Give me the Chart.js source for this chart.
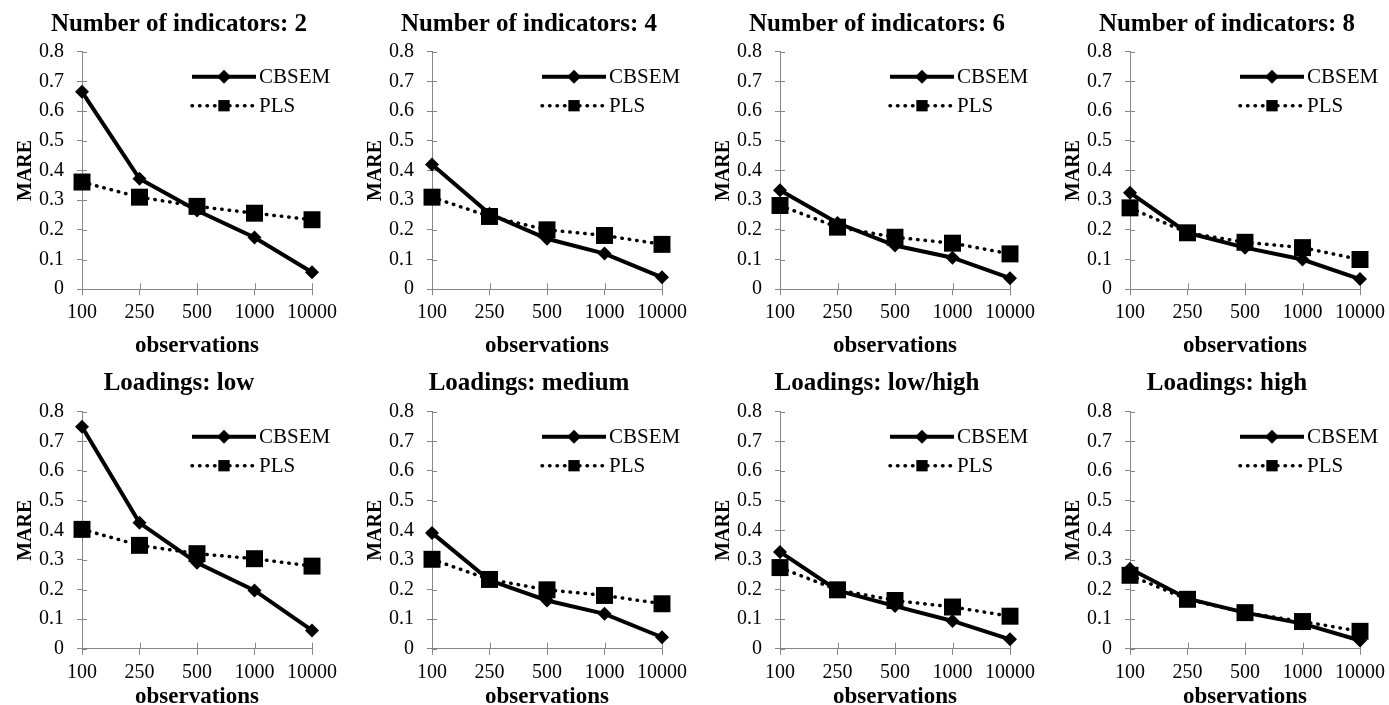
<!DOCTYPE html>
<html>
<head>
<meta charset="utf-8">
<script src="https://cdn.jsdelivr.net/npm/chart.js@4"></script>
<style>
  html, body { margin: 0; padding: 0; background: #fff; }
  body { width: 1389px; height: 705px; overflow: hidden; position: relative; }
  canvas { position: absolute; }
</style>
</head>
<body>
<script>
const categories = ['100', '250', '500', '1000', '10000']
const yTickLabels = ['0', '0.1', '0.2', '0.3', '0.4', '0.5', '0.6', '0.7', '0.8']
const seriesNames = ['CBSEM', 'PLS']
const panelTitles = [
    'Number of indicators: 2', 'Number of indicators: 4',
    'Number of indicators: 6', 'Number of indicators: 8',
    'Loadings: low', 'Loadings: medium', 'Loadings: low/high', 'Loadings: high'
]

const cbsemInd2 = [0.665, 0.372, 0.265, 0.174, 0.057]
const plsInd2 = [0.361, 0.31, 0.279, 0.256, 0.234]
const cbsemInd4 = [0.42, 0.254, 0.17, 0.12, 0.04]
const plsInd4 = [0.31, 0.245, 0.2, 0.181, 0.151]
const cbsemInd6 = [0.333, 0.223, 0.147, 0.106, 0.037]
const plsInd6 = [0.282, 0.209, 0.175, 0.155, 0.119]
const cbsemInd8 = [0.325, 0.19, 0.14, 0.1, 0.034]
const plsInd8 = [0.274, 0.19, 0.158, 0.14, 0.1]
const cbsemLow = [0.749, 0.425, 0.29, 0.197, 0.062]
const plsLow = [0.403, 0.349, 0.321, 0.304, 0.279]
const cbsemMedium = [0.391, 0.231, 0.163, 0.118, 0.039]
const plsMedium = [0.302, 0.234, 0.199, 0.18, 0.152]
const cbsemLowHigh = [0.327, 0.197, 0.144, 0.094, 0.032]
const plsLowHigh = [0.274, 0.199, 0.163, 0.141, 0.11]
const cbsemHigh = [0.27, 0.169, 0.122, 0.085, 0.028]
const plsHigh = [0.248, 0.167, 0.122, 0.092, 0.059]

const panelSeries = [
    [cbsemInd2, plsInd2], [cbsemInd4, plsInd4], [cbsemInd6, plsInd6], [cbsemInd8, plsInd8],
    [cbsemLow, plsLow], [cbsemMedium, plsMedium], [cbsemLowHigh, plsLowHigh], [cbsemHigh, plsHigh]
]

// layout of the 2 x 4 grid
const colLeft = [0, 349.7, 698, 1047.7]
const rows = [
    { top: 0, titleTop: 10, titleBottom: 11.7, xAxisH: 72.8 },
    { top: 360, titleTop: 8.3, titleBottom: 13.4, xAxisH: 64.2 }
]
const canvasW = 345
const yAxisW = 82
const plotW = 230
const plotH = 237
const titleCenterX = 179
const axisGray = '#868686'
const serif = "'Liberation Serif', 'Times New Roman', serif"

Chart.defaults.color = '#000'
Chart.defaults.font.family = serif

// title sits a bit left of the plot centre in the original
const titleShift = {
    id: 'titleShift',
    afterLayout(chart) {
        const tb = chart.titleBlock
        if (tb) {
            tb.left = 0
            tb.right = titleCenterX * 2
            tb.width = tb.right
        }
    }
}

// small inner half of the tick marks (Excel draws them across the axis)
const crossTicks = {
    id: 'crossTicks',
    beforeDatasetsDraw(chart) {
        const ctx = chart.ctx
        const area = chart.chartArea
        const xs = chart.scales.x
        const ys = chart.scales.y
        ctx.save()
        ctx.strokeStyle = axisGray
        ctx.lineWidth = 1
        ctx.beginPath()
        ys.ticks.forEach((t, i) => {
            const y = Math.round(ys.getPixelForTick(i)) + 0.5
            ctx.moveTo(area.left, y)
            ctx.lineTo(area.left + 5, y)
        })
        xs.ticks.forEach((t, i) => {
            const x = Math.round(xs.getPixelForTick(i)) + 0.5
            ctx.moveTo(x, area.bottom)
            ctx.lineTo(x, area.bottom - 6)
        })
        ctx.stroke()
        ctx.restore()
    }
}

// legend inside the plot, upper right
const innerLegend = {
    id: 'innerLegend',
    afterDatasetsDraw(chart) {
        const ctx = chart.ctx
        const area = chart.chartArea
        const rowsY = [area.top + 25, area.top + 54]
        chart.data.datasets.forEach((ds, i) => {
            const y = rowsY[i]
            const x0 = area.left + 110
            const x1 = area.left + 174
            ctx.save()
            ctx.strokeStyle = ds.borderColor
            ctx.lineWidth = ds.borderWidth
            ctx.lineCap = ds.borderCapStyle || 'butt'
            ctx.setLineDash(ds.borderDash || [])
            ctx.beginPath()
            ctx.moveTo(x0, y)
            ctx.lineTo(x1, y)
            ctx.stroke()
            ctx.setLineDash([])
            ctx.fillStyle = ds.pointBackgroundColor
            Chart.helpers.drawPoint(ctx, {
                pointStyle: ds.pointStyle,
                radius: ds.legendRadius,
                rotation: 0,
                borderWidth: 0
            }, (x0 + x1) / 2, y)
            ctx.fillStyle = '#000'
            ctx.font = "21px " + serif
            ctx.textBaseline = 'middle'
            ctx.textAlign = 'left'
            ctx.fillText(ds.label, x1 + 3, y + 1)
            ctx.restore()
        })
    }
}

function makePanel(idx) {
    const row = rows[Math.floor(idx / 4)]
    const left = colLeft[idx % 4]
    const titleH = row.titleTop + row.titleBottom + 30
    const canvasH = titleH + plotH + row.xAxisH

    const canvas = document.createElement('canvas')
    canvas.width = canvasW
    canvas.height = Math.ceil(canvasH)
    canvas.style.left = left + 'px'
    canvas.style.top = row.top + 'px'
    document.body.appendChild(canvas)

    const [cbsem, pls] = panelSeries[idx]

    new Chart(canvas, {
        type: 'line',
        data: {
            labels: categories,
            datasets: [{
                label: seriesNames[0],
                data: cbsem,
                borderColor: '#000',
                borderWidth: 4,
                pointStyle: 'rectRot',
                pointRadius: 7,
                legendRadius: 7,
                pointBackgroundColor: '#000',
                pointBorderWidth: 0,
                tension: 0,
                clip: false,
                order: 1
            }, {
                label: seriesNames[1],
                data: pls,
                borderColor: '#000',
                borderWidth: 3.5,
                borderDash: [0.5, 7],
                borderCapStyle: 'round',
                pointStyle: 'rect',
                pointRadius: 12,
                legendRadius: 8,
                pointBackgroundColor: '#000',
                pointBorderWidth: 0,
                tension: 0,
                clip: false,
                order: 0
            }]
        },
        options: {
            responsive: false,
            animation: false,
            events: [],
            layout: { padding: { left: 0, right: canvasW - yAxisW - plotW, top: 0, bottom: 0 }, autoPadding: false },
            plugins: {
                legend: { display: false },
                tooltip: { enabled: false },
                title: {
                    display: true,
                    text: panelTitles[idx],
                    color: '#000',
                    font: { family: serif, size: 25, weight: 'bold', lineHeight: 1.2 },
                    padding: { top: row.titleTop, bottom: row.titleBottom }
                }
            },
            scales: {
                x: {
                    type: 'category',
                    offset: false,
                    grid: { drawOnChartArea: false, color: axisGray, tickLength: 6, offset: false },
                    border: { color: axisGray, width: 1 },
                    ticks: { color: '#000', font: { family: serif, size: 20 }, padding: 6, maxRotation: 0, autoSkip: false },
                    title: {
                        display: true,
                        text: 'observations',
                        color: '#000',
                        font: { family: serif, size: 23, weight: 'bold', lineHeight: 1.2 },
                        padding: { top: 0, bottom: 2 }
                    },
                    afterFit(s) {
                        s.height = row.xAxisH
                        s.paddingLeft = 0
                        s.paddingRight = 0
                    }
                },
                y: {
                    min: 0,
                    max: 0.8,
                    grid: { drawOnChartArea: false, color: axisGray, tickLength: 5 },
                    border: { color: axisGray, width: 1 },
                    ticks: {
                        stepSize: 0.1,
                        color: '#000',
                        font: { family: serif, size: 20 },
                        padding: 13,
                        callback: (v, i) => yTickLabels[i]
                    },
                    title: {
                        display: true,
                        text: 'MARE',
                        color: '#000',
                        font: { family: serif, size: 20, weight: 'bold', lineHeight: 1.2 },
                        padding: { top: 14, bottom: 0 }
                    },
                    afterFit(s) {
                        s.width = yAxisW
                        s.paddingTop = 0
                        s.paddingBottom = 0
                    }
                }
            }
        },
        plugins: [titleShift, crossTicks, innerLegend]
    })
}

for (let i = 0; i < 8; i++) makePanel(i)
</script>
</body>
</html>
